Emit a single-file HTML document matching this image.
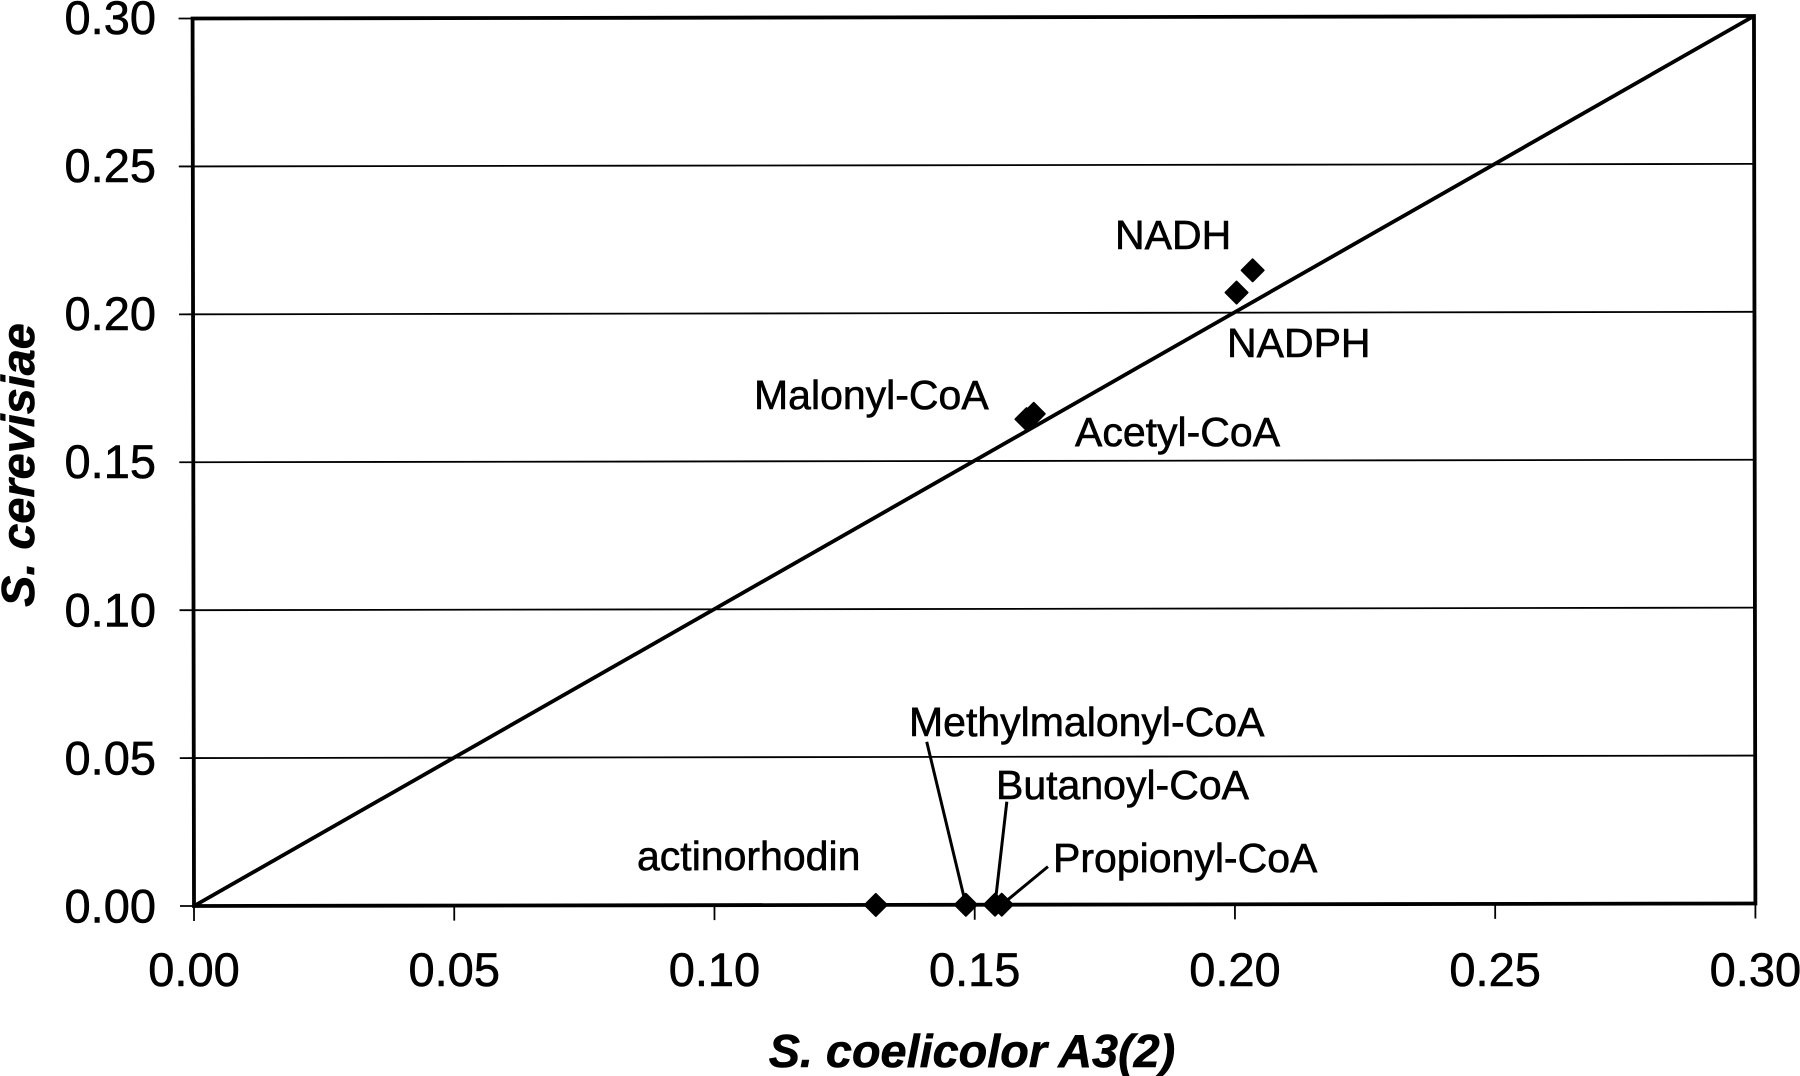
<!DOCTYPE html>
<html lang="en">
<head>
<meta charset="utf-8">
<title>S. coelicolor vs S. cerevisiae</title>
<style>
html,body{margin:0;padding:0;background:#fff;width:1800px;height:1076px;overflow:hidden}
svg{display:block}
text{font-family:"Liberation Sans",Arial,sans-serif;fill:#000;stroke:#000;stroke-width:.6px}
.tick{font-size:47px}
.lab{font-size:41px}
.title{font-size:46.8px;font-weight:bold;font-style:italic}
</style>
</head>
<body>
<svg id="chart" width="1800" height="1076" viewBox="0 0 1800 1076" xmlns="http://www.w3.org/2000/svg">
  <rect width="1800" height="1076" fill="#fff"/>
  <g id="plot" transform="rotate(-0.092 194 906)"></g>
  <g id="ticklabels"></g>
  <g>
    <text class="lab" x="1115" y="249">NADH</text>
    <text class="lab" x="1227" y="357">NADPH</text>
    <text class="lab" x="754" y="409">Malonyl-CoA</text>
    <text class="lab" x="1075" y="446">Acetyl-CoA</text>
    <text class="lab" x="909" y="736">Methylmalonyl-CoA</text>
    <text class="lab" x="996" y="799">Butanoyl-CoA</text>
    <text class="lab" x="1053" y="872">Propionyl-CoA</text>
    <text class="lab" x="637" y="870">actinorhodin</text>
  </g>
  <text class="title" x="972" y="1067" text-anchor="middle">S. coelicolor A3(2)</text>
  <text class="title" transform="translate(34 465) rotate(-90)" text-anchor="middle">S. cerevisiae</text>
</svg>
<script>
const tickValues = [0, 0.05, 0.10, 0.15, 0.20, 0.25, 0.30];
const tickLabels = ["0.00", "0.05", "0.10", "0.15", "0.20", "0.25", "0.30"];
const compounds = ["NADH", "NADPH", "Malonyl-CoA", "Acetyl-CoA", "actinorhodin", "Methylmalonyl-CoA", "Butanoyl-CoA", "Propionyl-CoA"];
const coelicolorValues = [0.2036, 0.2005, 0.1615, 0.1601, 0.1310, 0.1483, 0.1539, 0.1552];
const cerevisiaeValues = [0.2143, 0.2068, 0.1659, 0.1641, 0, 0, 0, 0];
const identityLine = [0, 0.30];

const NS = "http://www.w3.org/2000/svg";
const X0 = 194, Y0 = 906, W = 1561.4, H = 887.5, AXIS_MAX = 0.30;
function sx(v) { return X0 + v / AXIS_MAX * W; }
function sy(v) { return Y0 - v / AXIS_MAX * H; }
function make(parent, tag, attrs) {
  const el = document.createElementNS(NS, tag);
  for (const k in attrs) el.setAttribute(k, attrs[k]);
  parent.appendChild(el);
  return el;
}
const plot = document.getElementById("plot");
const ticklabels = document.getElementById("ticklabels");

tickValues.forEach(function (v, i) {
  if (v > 0 && v < AXIS_MAX) {
    const grid = make(plot, "line", { x1: sx(0), x2: sx(AXIS_MAX), y1: sy(v), y2: sy(v), stroke: "#000", "stroke-width": 1.8 });
    
    
  }
  const ty = make(plot, "line", { x1: sx(0) - 14, x2: sx(0), y1: sy(v), y2: sy(v), stroke: "#000", "stroke-width": 1.8 });
  
  
  const tx = make(plot, "line", { x1: sx(v), x2: sx(v), y1: sy(0), y2: sy(0) + 15, stroke: "#000", "stroke-width": 1.8 });
  
  

  const yl = make(ticklabels, "text", { class: "tick", x: 156, y: sy(v) + 16.5 - i * 0.2, "text-anchor": "end" });
  
  
  yl.textContent = tickLabels[i];
  const xl = make(ticklabels, "text", { class: "tick", x: sx(v), y: 986, "text-anchor": "middle" });
  
  
  xl.textContent = tickLabels[i];
});

const frame = make(plot, "rect", { x: sx(0), y: sy(AXIS_MAX), width: sx(AXIS_MAX) - sx(0), height: sy(0) - sy(AXIS_MAX), fill: "none", stroke: "#000", "stroke-width": 3.8 });



const diag = make(plot, "line", { x1: sx(identityLine[0]), y1: sy(identityLine[0]), x2: sx(identityLine[1]), y2: sy(identityLine[1]), stroke: "#000", "stroke-width": 3.8 });



/* leader lines: fixed label-side anchors joined to the marker position */
const leaderCompounds = ["Methylmalonyl-CoA", "Butanoyl-CoA", "Propionyl-CoA"];
const leaderStartX = [927, 1007, 1048];
const leaderStartY = [743, 803, 868];
leaderCompounds.forEach(function (name, i) {
  const k = compounds.indexOf(name);
  const leader = make(plot, "line", { x1: leaderStartX[i], y1: leaderStartY[i], x2: sx(coelicolorValues[k]), y2: sy(cerevisiaeValues[k]), stroke: "#000", "stroke-width": 3 });
  
  
});

compounds.forEach(function (name, i) {
  const cx = sx(coelicolorValues[i]), cy = sy(cerevisiaeValues[i]), r = 11;
  const d = "M" + cx + " " + (cy - r) + "L" + (cx + r) + " " + cy + "L" + cx + " " + (cy + r) + "L" + (cx - r) + " " + cy + "Z";
  const pt = make(plot, "path", { d: d, fill: "#000", stroke: "#000", "stroke-width": 2, "stroke-linejoin": "round" });
  
  
  const tip = make(pt, "title", {});
  tip.textContent = name;
});
</script>
</body>
</html>
